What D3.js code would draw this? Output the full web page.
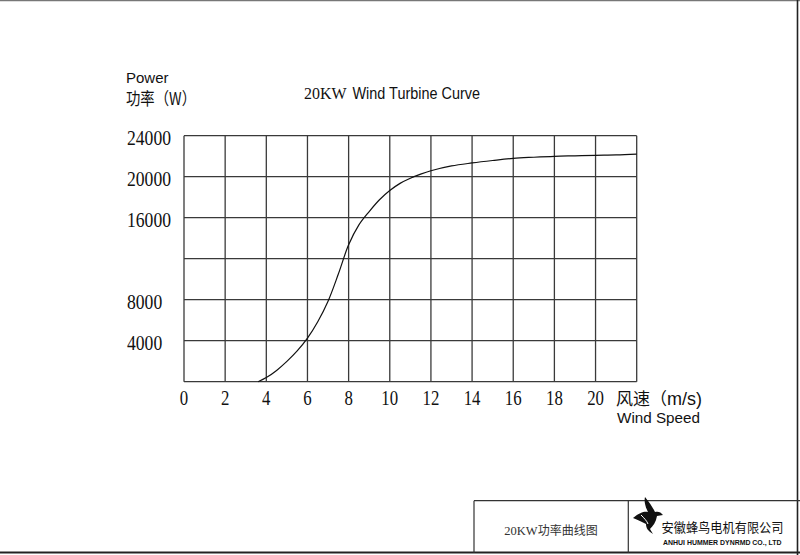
<!DOCTYPE html>
<html>
<head>
<meta charset="utf-8">
<script src="https://cdn.jsdelivr.net/npm/d3@7/dist/d3.min.js"></script>
<style>
  html, body { margin: 0; padding: 0; background: #fff; }
  svg { display: block; }
</style>
</head>
<body>
<svg id="chart" width="800" height="555"></svg>
<script>
// ---- data ----
const windSpeed = [3.6, 4, 4.5, 5, 5.5, 6, 6.5, 7, 7.5, 8, 8.5, 9, 9.5, 10, 10.5, 11, 11.5, 12, 13, 14, 15, 16, 17, 18, 19, 20, 21, 22];
const powerW    = [0, 400, 1100, 1980, 3000, 4250, 5850, 7850, 10500, 13350, 15300, 16600, 17750, 18650, 19350, 19850, 20250, 20580, 21050, 21340, 21580, 21790, 21900, 21990, 22040, 22090, 22120, 22210];
const xTicks = [0, 2, 4, 6, 8, 10, 12, 14, 16, 18, 20];
const xGrid = [0, 2, 4, 6, 8, 10, 12, 14, 16, 18, 20, 22];
const yGrid = [0, 4000, 8000, 12000, 16000, 20000, 24000];
const yTickLabels = [4000, 8000, 16000, 20000, 24000];

const SERIF = "'Liberation Serif', 'Times New Roman', serif";
const SANS = "'Liberation Sans', Arial, sans-serif";
const CJK = "'Noto Sans CJK SC', sans-serif";

const svg = d3.select("#chart");
const x = d3.scaleLinear().domain([0, 22]).range([184, 636.7]);
const y = d3.scaleLinear().domain([0, 24000]).range([381.7, 135.7]);

// page frame
svg.append("line").attr("x1", 0).attr("x2", 800).attr("y1", 0.7).attr("y2", 0.7).attr("stroke", "#777").attr("stroke-width", 1.2);
svg.append("line").attr("x1", 797.5).attr("x2", 797.5).attr("y1", 0).attr("y2", 555).attr("stroke", "#222").attr("stroke-width", 1.6);
svg.append("line").attr("x1", 0).attr("x2", 800).attr("y1", 552.5).attr("y2", 552.5).attr("stroke", "#222").attr("stroke-width", 2);

// grid
const g = svg.append("g");
g.selectAll(".vg").data(xGrid).join("line")
  .attr("x1", d => x(d)).attr("x2", d => x(d))
  .attr("y1", y(24000)).attr("y2", y(0))
  .attr("stroke", "#3a3a3a").attr("stroke-width", 1.3);
g.selectAll(".hg").data(yGrid).join("line")
  .attr("x1", x(0)).attr("x2", x(22))
  .attr("y1", d => y(d)).attr("y2", d => y(d))
  .attr("stroke", "#3a3a3a").attr("stroke-width", 1.3);

// curve
const line = d3.line().x((d, i) => x(windSpeed[i])).y(d => y(d)).curve(d3.curveCatmullRom.alpha(0.5));
svg.append("path").datum(powerW).attr("d", line)
  .attr("fill", "none").attr("stroke", "#111").attr("stroke-width", 1.2);

// y labels
svg.selectAll(".yl").data(yTickLabels).join("text")
  .attr("x", 127).attr("y", d => y(d) + 9)
  .attr("font-family", SERIF).attr("font-size", 20.5).attr("fill", "#111")
  .attr("textLength", d => String(d).length * 8.8).attr("lengthAdjust", "spacingAndGlyphs")
  .text(d => d);

// x labels
svg.selectAll(".xl").data(xTicks).join("text")
  .attr("x", d => x(d)).attr("y", 405)
  .attr("text-anchor", "middle")
  .attr("font-family", SERIF).attr("font-size", 20.5).attr("fill", "#111")
  .attr("textLength", d => String(d).length * 8.4).attr("lengthAdjust", "spacingAndGlyphs")
  .text(d => d);

// axis titles
svg.append("text").attr("x", 126).attr("y", 82.5)
  .attr("font-family", SANS).attr("font-size", 15).attr("fill", "#111").text("Power");
svg.append("text").attr("x", 126).attr("y", 105)
  .attr("font-family", CJK).attr("font-size", 17).attr("fill", "#111")
  .attr("textLength", 70).attr("lengthAdjust", "spacingAndGlyphs")
  .text("功率（W）");

const xt = svg.append("text").attr("x", 616).attr("y", 405).attr("fill", "#111");
xt.append("tspan").attr("font-family", CJK).attr("font-size", 17).text("风速（");
xt.append("tspan").attr("font-family", SANS).attr("font-size", 18).text("m/s)");
svg.append("text").attr("x", 617).attr("y", 423)
  .attr("font-family", SANS).attr("font-size", 15.5).attr("fill", "#111")
  .attr("textLength", 83).attr("lengthAdjust", "spacingAndGlyphs").text("Wind Speed");

// title
svg.append("text").attr("x", 304).attr("y", 98.5)
  .attr("font-family", SERIF).attr("font-size", 17).attr("fill", "#111")
  .attr("textLength", 42.5).attr("lengthAdjust", "spacingAndGlyphs").text("20KW");
svg.append("text").attr("x", 352.5).attr("y", 98.5)
  .attr("font-family", SANS).attr("font-size", 16.3).attr("fill", "#111")
  .attr("textLength", 127.5).attr("lengthAdjust", "spacingAndGlyphs").text("Wind Turbine Curve");

// title block bottom right
svg.append("line").attr("x1", 474).attr("x2", 800).attr("y1", 500.7).attr("y2", 500.7).attr("stroke", "#333").attr("stroke-width", 1.2);
svg.append("line").attr("x1", 474).attr("x2", 474).attr("y1", 500.7).attr("y2", 553).attr("stroke", "#333").attr("stroke-width", 1.2);
svg.append("line").attr("x1", 628.3).attr("x2", 628.3).attr("y1", 500.7).attr("y2", 553).attr("stroke", "#333").attr("stroke-width", 1.2);

const cap = svg.append("text").attr("x", 551).attr("y", 535).attr("text-anchor", "middle").attr("fill", "#333");
cap.append("tspan").attr("font-family", SERIF).attr("font-size", 12.5).text("20KW");
cap.append("tspan").attr("font-family", CJK).attr("font-size", 12).text("功率曲线图");

// logo (bird)
svg.append("path")
  .attr("d", "M633,518 C640,512 645,511 648,512 C645,506 644,501 645,497 C650,503 653,508 655,512 C658,511 661,512 663,515 L657,516 C656,522 653,526 650,529 L653,534 C648,531 646,528 646,524 C642,522 638,520 633,518 Z")
  .attr("fill", "#111");
svg.append("path").attr("d", "M641,515 C644,518 647,521 648,524").attr("stroke", "#fff").attr("stroke-width", 1).attr("fill", "none");

svg.append("text").attr("x", 661.5).attr("y", 532)
  .attr("font-family", CJK).attr("font-size", 13).attr("fill", "#111")
  .attr("textLength", 122).attr("lengthAdjust", "spacingAndGlyphs").text("安徽蜂鸟电机有限公司");
svg.append("text").attr("x", 663).attr("y", 544.5)
  .attr("font-family", SANS).attr("font-size", 6.5).attr("font-weight", "bold").attr("fill", "#111")
  .attr("textLength", 118.5).attr("lengthAdjust", "spacingAndGlyphs").text("ANHUI HUMMER DYNRMD CO., LTD");
</script>
</body>
</html>
